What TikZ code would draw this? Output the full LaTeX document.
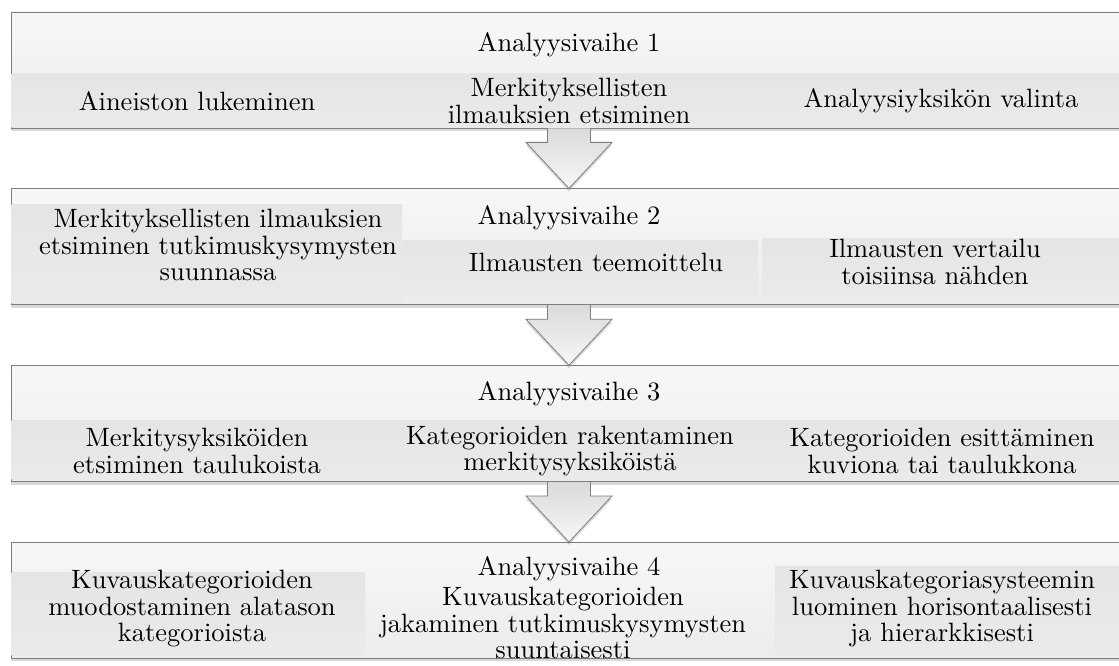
\documentclass[tikz,border=0pt]{standalone}
\usepackage{fontspec}
\setmainfont{lmroman10-regular.otf}
\usetikzlibrary{positioning, calc, shadows}
\definecolor{boxline}{RGB}{125,125,125}
\definecolor{boxtop}{RGB}{247,247,247}
\definecolor{boxbottom}{RGB}{236,236,236}
\definecolor{cellgrey}{RGB}{229,229,229}
\definecolor{arrowgrey}{RGB}{218,218,218}

\tikzset{
  stagebox/.style={rectangle, draw=boxline, line width=0.8pt, top color=boxtop, bottom color=boxbottom, minimum width=1116pt, minimum height=116pt, drop shadow={shadow xshift=0pt, shadow yshift=-3pt, opacity=0.3}},
  cellband/.style={top color=cellgrey, bottom color=cellgrey!80!white},
  flowarrow/.style={draw=boxline, line width=0.8pt, top color=arrowgrey, bottom color=boxtop, drop shadow={shadow xshift=0pt, shadow yshift=-3pt, opacity=0.3}},
  stagetext/.style={align=center, inner sep=0pt, font=\fontsize{26.5}{26.5}\selectfont}
}

\begin{document}
\begin{tikzpicture}[x=1pt, y=-1pt]
\useasboundingbox (0,0) rectangle (1119,666);
\clip (0,0) rectangle (1119,666);

% the four stages
\node[stagebox] (b1) at (569,70) {};
\node[stagebox, below=60pt of b1] (b2) {};
\node[stagebox, below=60pt of b2] (b3) {};
\node[stagebox, below=60pt of b3] (b4) {};

% shaded text cells
\fill[cellband] (11.5,74) rectangle (1127,127.5);
\fill[cellband] (11.5,204) rectangle (402,303.5);
\fill[cellband] (402,240) rectangle (758,294);
\fill[cellband] (762,238) rectangle (1127,296);
\fill[cellband] (11.5,420) rectangle (1127,479.5);
\fill[cellband] (11.5,572) rectangle (365,655.5);
\fill[cellband] (775,566) rectangle (1127,655);

% block arrows between the stages
\foreach \a/\b in {b1/b2, b2/b3, b3/b4} {
  \path[flowarrow] ($(\a.south)+(-21.5,0)$) -- ($(\a.south)+(-21.5,14)$) -- ($(\a.south)+(-43,14)$) -- (\b.north) -- ($(\a.south)+(43,14)$) -- ($(\a.south)+(21.5,14)$) -- ($(\a.south)+(21.5,0)$);
}

% stage 1
\node[stagetext] (h1) at (569,45) {Analyysivaihe 1};
\node[stagetext] (l1) at (197,101) {Aineiston lukeminen};
\node[stagetext] (m1) at (569,101) {Merkityksellisten\\ilmauksien etsiminen};
\node[stagetext] (r1) at (941,101) {Analyysiyksikön valinta};

% stage 2
\node[stagetext] (h2) at (569,218) {Analyysivaihe 2};
\node[stagetext] (l2) at (218,245) {Merkityksellisten ilmauksien\\etsiminen tutkimuskysymysten\\suunnassa};
\node[stagetext] (m2) at (596,262) {Ilmausten teemoittelu};
\node[stagetext] (r2) at (935,262) {Ilmausten vertailu\\toisiinsa nähden};

% stage 3
\node[stagetext] (h3) at (569,394) {Analyysivaihe 3};
\node[stagetext] (l3) at (197,451) {Merkitysyksiköiden\\etsiminen taulukoista};
\node[stagetext] (m3) at (570,451) {Kategorioiden rakentaminen\\merkitysyksiköistä};
\node[stagetext] (r3) at (942,451) {Kategorioiden esittäminen\\kuviona tai taulukkona};

% stage 4
\node[stagetext] (h4) at (569,569) {Analyysivaihe 4};
\node[stagetext] (l4) at (192,609) {Kuvauskategorioiden\\muodostaminen alatason\\kategorioista};
\node[stagetext] (m4) at (563,623) {Kuvauskategorioiden\\jakaminen tutkimuskysymysten\\suuntaisesti};
\node[stagetext] (r4) at (942,609) {Kuvauskategoriasysteemin\\luominen horisontaalisesti\\ja hierarkkisesti};
\end{tikzpicture}
\end{document}
